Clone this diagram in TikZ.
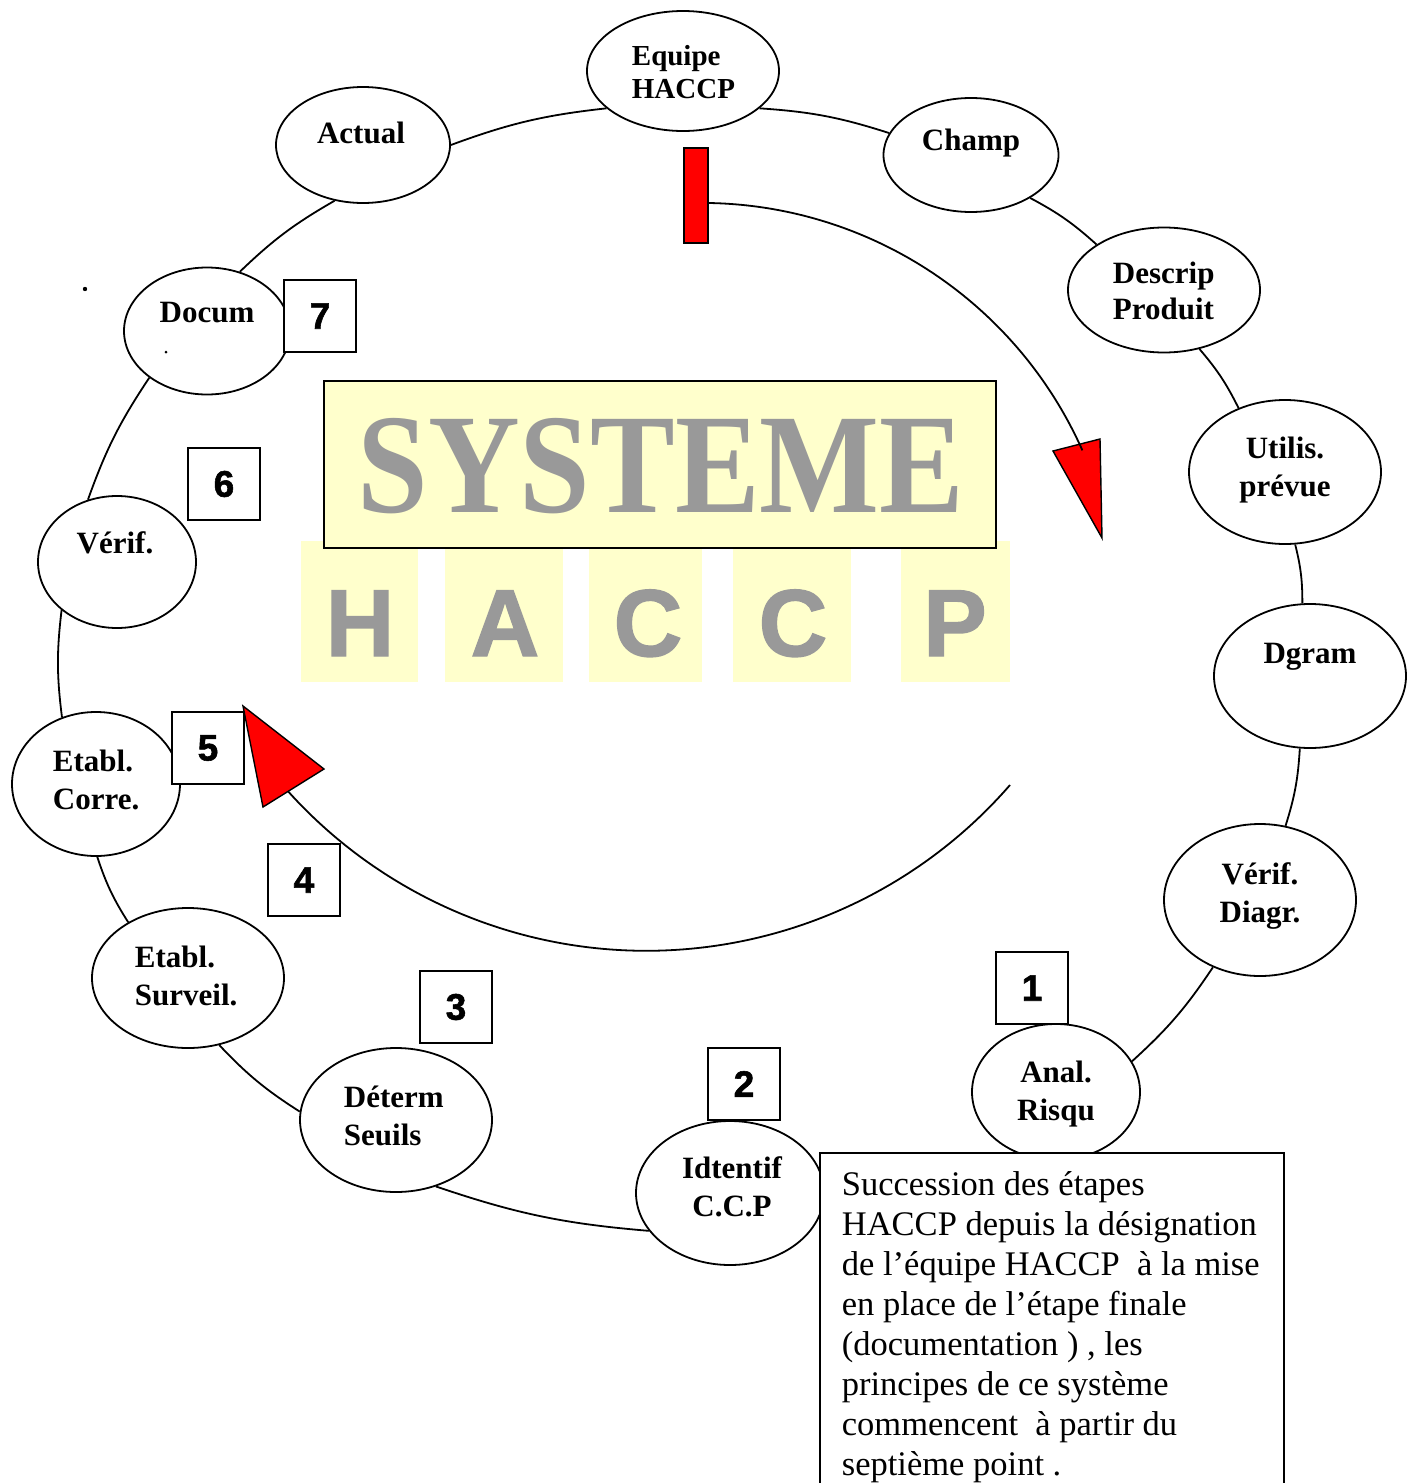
\documentclass[tikz,border=0pt]{standalone}
\usepackage{fontspec}
\setmainfont{Liberation Serif}
\newfontfamily\arialfont[FakeBold=1.5]{Liberation Sans Bold}
\usepackage{xcolor}
\usetikzlibrary{shapes.geometric, positioning, calc}
\definecolor{jaunepale}{HTML}{FFFFCC}
\definecolor{grisnom}{HTML}{999999}

\begin{document}
\begin{tikzpicture}[x=1pt, y=-1pt, line width=1.8pt,
    etape/.style={draw, ellipse, fill=white, inner sep=0pt},
    etiq/.style={inner sep=0pt, font=\fontsize{31}{38}\selectfont\bfseries},
    numero/.style={draw, fill=white, minimum size=72pt, inner sep=0pt,
        font=\arialfont\fontsize{37}{37}\selectfont},
    lettre/.style={inner sep=0pt, text=grisnom,
        font=\arialfont\fontsize{95}{95}\selectfont},
    fleche/.style={fill=red, draw=black, line width=1.4pt}]
    \useasboundingbox (0,0) rectangle (1417,1483);

    \node[etape, minimum width=192pt, minimum height=120pt] (equipe) at (683,71) {};
    \node[etape, minimum width=174pt, minimum height=116pt] (actual) at (363,145) {};
    \node[etape, minimum width=175pt, minimum height=114pt] (champ) at (971,155) {};
    \node[etape, minimum width=192pt, minimum height=125pt] (descrip) at (1164,290) {};
    \node[etape, minimum width=192pt, minimum height=144pt] (utilis) at (1285,472) {};
    \node[etape, minimum width=192pt, minimum height=144pt] (dgram) at (1310,676) {};
    \node[etape, minimum width=192pt, minimum height=152pt] (verifd) at (1260,900) {};
    \node[etape, minimum width=168pt, minimum height=136pt] (anal) at (1056,1092) {};
    \node[etape, minimum width=188pt, minimum height=144pt] (idccp) at (730,1193) {};
    \node[etape, minimum width=192pt, minimum height=144pt] (determ) at (396,1120) {};
    \node[etape, minimum width=192pt, minimum height=140pt] (surveil) at (188,978) {};
    \node[etape, minimum width=168pt, minimum height=144pt] (corre) at (96,784) {};
    \node[etape, minimum width=158pt, minimum height=132pt] (verif) at (117,562) {};
    \node[etape, minimum width=166pt, minimum height=127pt] (docum) at (207,331) {};

    \foreach \a/\p/\b/\q in {equipe/-26/champ/165, champ/-36/descrip/146,
        descrip/-59/utilis/126, utilis/-82/dgram/96, dgram/262/verifd/71,
        verifd/235/anal/22, idccp/205/determ/301, determ/175/surveil/295,
        surveil/137/corre/271, corre/117/verif/221, verif/115/docum/219,
        docum/61/actual/243, actual/0/equipe/206}
        \draw (\a.\p) to[bend left=7] (\b.\q);

    \node[etiq, anchor=base west, align=left, font=\fontsize{29}{33}\selectfont\bfseries] (equipe-t) at (631,98) {Equipe\\HACCP};
    \node[etiq, anchor=base] (actual-t) at (361,143) {Actual};
    \node[etiq, anchor=base] (champ-t) at (971,150) {Champ};
    \node[etiq, anchor=base west, align=left, font=\fontsize{31}{36}\selectfont\bfseries] (descrip-t) at (1112,319) {Descrip\\Produit};
    \node[etiq, anchor=base, align=center] (utilis-t) at (1285,496) {Utilis.\\prévue};
    \node[etiq, anchor=base] (dgram-t) at (1310,663) {Dgram};
    \node[etiq, anchor=base, align=center] (verifd-t) at (1260,922) {Vérif.\\Diagr.};
    \node[etiq, anchor=base, align=center] (anal-t) at (1056,1120) {Anal.\\Risqu};
    \node[etiq, anchor=base, align=center] (idccp-t) at (732,1216) {Idtentif\\C.C.P};
    \node[etiq, anchor=base west, align=left] (determ-t) at (343,1145) {Déterm\\Seuils};
    \node[etiq, anchor=base west, align=left] (surveil-t) at (134,1005) {Etabl.\\Surveil.};
    \node[etiq, anchor=base west, align=left] (corre-t) at (52,809) {Etabl.\\Corre.};
    \node[etiq, anchor=base] (verif-t) at (115,553) {Vérif.};
    \node[etiq, anchor=base] (docum-t) at (207,322) {Docum};

    \fill (85,289) circle (2.2);
    \fill (166,352) circle (1.5);

    \foreach \l/\a/\b/\m in {H/301/418/360, A/445/563/505, C/589/702/648,
        C/733/851/793, P/901/1010/955} {
        \fill[jaunepale] (\a,541) rectangle (\b,682);
        \node[lettre, anchor=base] (lettre-\m) at (\m,656) {\l};
    }
    \node[draw, fill=jaunepale, minimum width=672pt, minimum height=167pt, inner sep=0pt] (titre) at (660,464.5) {};
    \node[anchor=base, inner sep=0pt, text=grisnom, font=\fontsize{127}{127}\selectfont\bfseries] (titre-t) at (661,512) {\scalebox{1}[1.12]{SYSTEME}};

    \node[numero] (n7) at (320,316) {7};
    \node[numero] (n6) at (224,484) {6};
    \node[numero] (n5) at (208,748) {5};
    \node[numero] (n4) at (304,880) {4};
    \node[numero] (n3) at (456,1007) {3};
    \node[numero] (n2) at (744,1084) {2};
    \node[numero] (n1) at (1032,988) {1};

    \node[draw, fill=red, minimum width=24pt, minimum height=95pt, inner sep=0pt, line width=1.4pt] (barre) at (696,195.5) {};
    \filldraw[fleche] (1053,451) -- (1100,439) -- (1102,538) -- cycle;
    \draw (barre.east |- 0,203) arc[start angle=-89, end angle=-24, radius=417];
    \draw (1010,785) arc[start angle=41, end angle=138, radius=482];
    \filldraw[fleche] (243,706) -- (324,769) -- (263,807) -- cycle;

    \filldraw[fill=white] (820,1153) rectangle (1284,1520);
    \node[anchor=base west, align=left, inner sep=0pt, font=\fontsize{34.5}{40}\selectfont] (legende) at (841,1475)
        {Succession des étapes\\HACCP depuis la désignation\\de l’équipe HACCP\ \ à la mise\\en place de l’étape finale\\(documentation ) , les\\principes de ce système\\commencent\ \ à partir du\\septième point .};
\end{tikzpicture}
\end{document}
